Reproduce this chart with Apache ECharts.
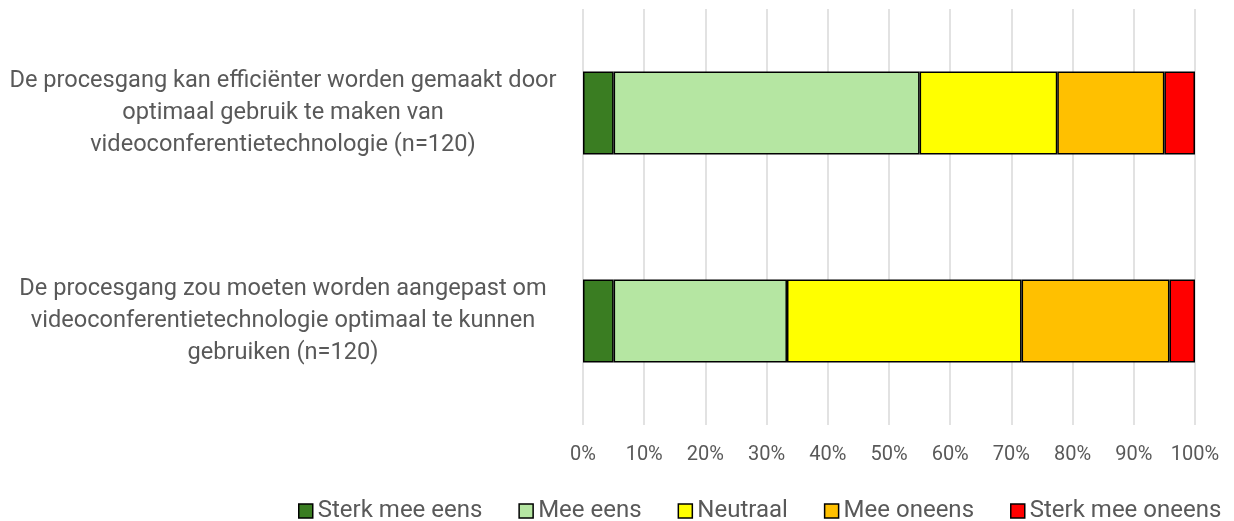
<!DOCTYPE html>
<html>
<head>
    <meta charset="utf-8">
    <title>Videoconferentie procesgang</title>
    <script src="https://cdn.jsdelivr.net/npm/echarts@6/dist/echarts.min.js"></script>
    <style>
        html, body { margin: 0; padding: 0; background: #ffffff; }
        #chart { width: 1234px; height: 521px; }
    </style>
</head>
<body>
<div id="chart"></div>
<script>
    // stellingen (van boven naar beneden)
    var categories = [
        'De procesgang kan efficiënter worden gemaakt door\noptimaal gebruik te maken van\nvideoconferentietechnologie (n=120)',
        'De procesgang zou moeten worden aangepast om\nvideoconferentietechnologie optimaal te kunnen\ngebruiken (n=120)'
    ];
    var seriesNames = ['Sterk mee eens', 'Mee eens', 'Neutraal', 'Mee oneens', 'Sterk mee oneens'];
    // percentages per antwoord
    var sterkEens = [5, 5];
    var eens = [50, 28.33];
    var neutraal = [22.5, 38.33];
    var oneens = [17.5, 24.17];
    var sterkOneens = [5, 4.17];
    var colors = ['#3A7D22', '#B5E6A2', '#FFFF00', '#FFC000', '#FF0000'];

    var values = [sterkEens, eens, neutraal, oneens, sterkOneens];
    var font = 'Roboto, "Noto Sans", sans-serif';

    var chart = echarts.init(document.getElementById('chart'));
    var series = seriesNames.map(function (name, i) {
        return {
            name: name,
            type: 'bar',
            stack: 'totaal',
            barCategoryGap: '60%',
            data: values[i],
            itemStyle: { color: colors[i], borderColor: '#000000', borderWidth: 1.5 }
        };
    });

    chart.setOption({
        animation: false,
        textStyle: { fontFamily: font },
        grid: { left: 583, right: 39, top: 9, bottom: 96 },
        legend: {
            left: 298,
            top: 499,
            width: 936,
            padding: 0,
            itemWidth: 14,
            itemHeight: 14,
            itemGap: 36,
            icon: 'rect',
            itemStyle: { borderColor: '#000000', borderWidth: 1.5 },
            textStyle: { fontSize: 24, color: '#595959', fontFamily: font },
            data: seriesNames
        },
        xAxis: {
            type: 'value',
            min: 0,
            max: 100,
            interval: 10,
            axisLine: { show: false },
            axisTick: { show: false },
            splitLine: { lineStyle: { color: '#D9D9D9', width: 1.5 } },
            axisLabel: { formatter: '{value}%', fontSize: 20, color: '#595959', margin: 20 }
        },
        yAxis: {
            type: 'category',
            inverse: true,
            data: categories,
            axisLine: { show: false },
            axisTick: { show: false },
            axisLabel: {
                fontSize: 23.6, color: '#595959', lineHeight: 32, align: 'center',
                margin: 300, padding: [10, 0, 0, 0]
            }
        },
        series: series
    });
</script>
</body>
</html>
